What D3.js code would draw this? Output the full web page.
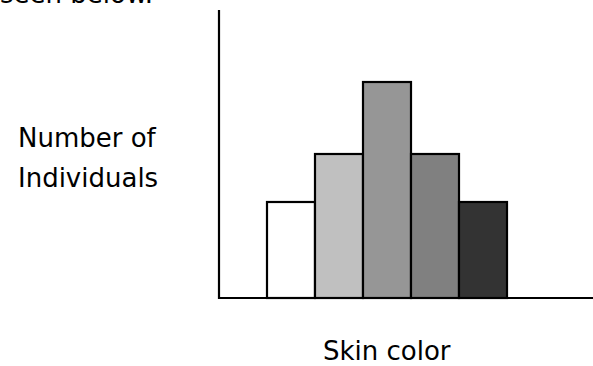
<!DOCTYPE html>
<html>
<head>
<meta charset="utf-8">
<script src="https://cdn.jsdelivr.net/npm/d3@7"></script>
<style>
  html, body { margin: 0; padding: 0; background: #fff; }
  svg { display: block; }
  text { font-family: "DejaVu Sans", Verdana, sans-serif; fill: #000; }
</style>
</head>
<body>
<script>
// Skin-colour classes and how many individuals fall in each
const categories = ["lightest", "light", "medium", "dark", "darkest"];
const counts = [2, 3, 4.5, 3, 2];
const shades = ["#ffffff", "#c0c0c0", "#969696", "#808080", "#333333"];

const W = 593, H = 366;
const svg = d3.select("body").append("svg").attr("width", W).attr("height", H);

const x = d3.scaleBand().domain(categories).range([267, 507]).padding(0);
const y = d3.scaleLinear().domain([0, 6]).range([298, 10]);

// Bars
svg.selectAll("rect.bar")
  .data(categories)
  .join("rect")
  .attr("class", "bar")
  .attr("x", d => x(d))
  .attr("width", x.bandwidth())
  .attr("y", (d, i) => y(counts[i]))
  .attr("height", (d, i) => y(0) - y(counts[i]))
  .attr("fill", (d, i) => shades[i])
  .attr("stroke", "#000")
  .attr("stroke-width", 2.2);

// Axes: bare lines, no ticks
svg.append("line")
  .attr("x1", 219).attr("x2", 219)
  .attr("y1", y.range()[1]).attr("y2", y(0) + 1)
  .attr("stroke", "#000").attr("stroke-width", 2.2);
svg.append("line")
  .attr("x1", 218).attr("x2", W)
  .attr("y1", y(0)).attr("y2", y(0))
  .attr("stroke", "#000").attr("stroke-width", 2.2);

// Text
svg.append("text").attr("x", 0).attr("y", 3).attr("font-size", 26).text("seen below.");
svg.append("text").attr("x", 18).attr("y", 147).attr("font-size", 26).text("Number of");
svg.append("text").attr("x", 18).attr("y", 187).attr("font-size", 26).text("Individuals");
svg.append("text").attr("x", 323).attr("y", 360).attr("font-size", 26).text("Skin color");
</script>
</body>
</html>
